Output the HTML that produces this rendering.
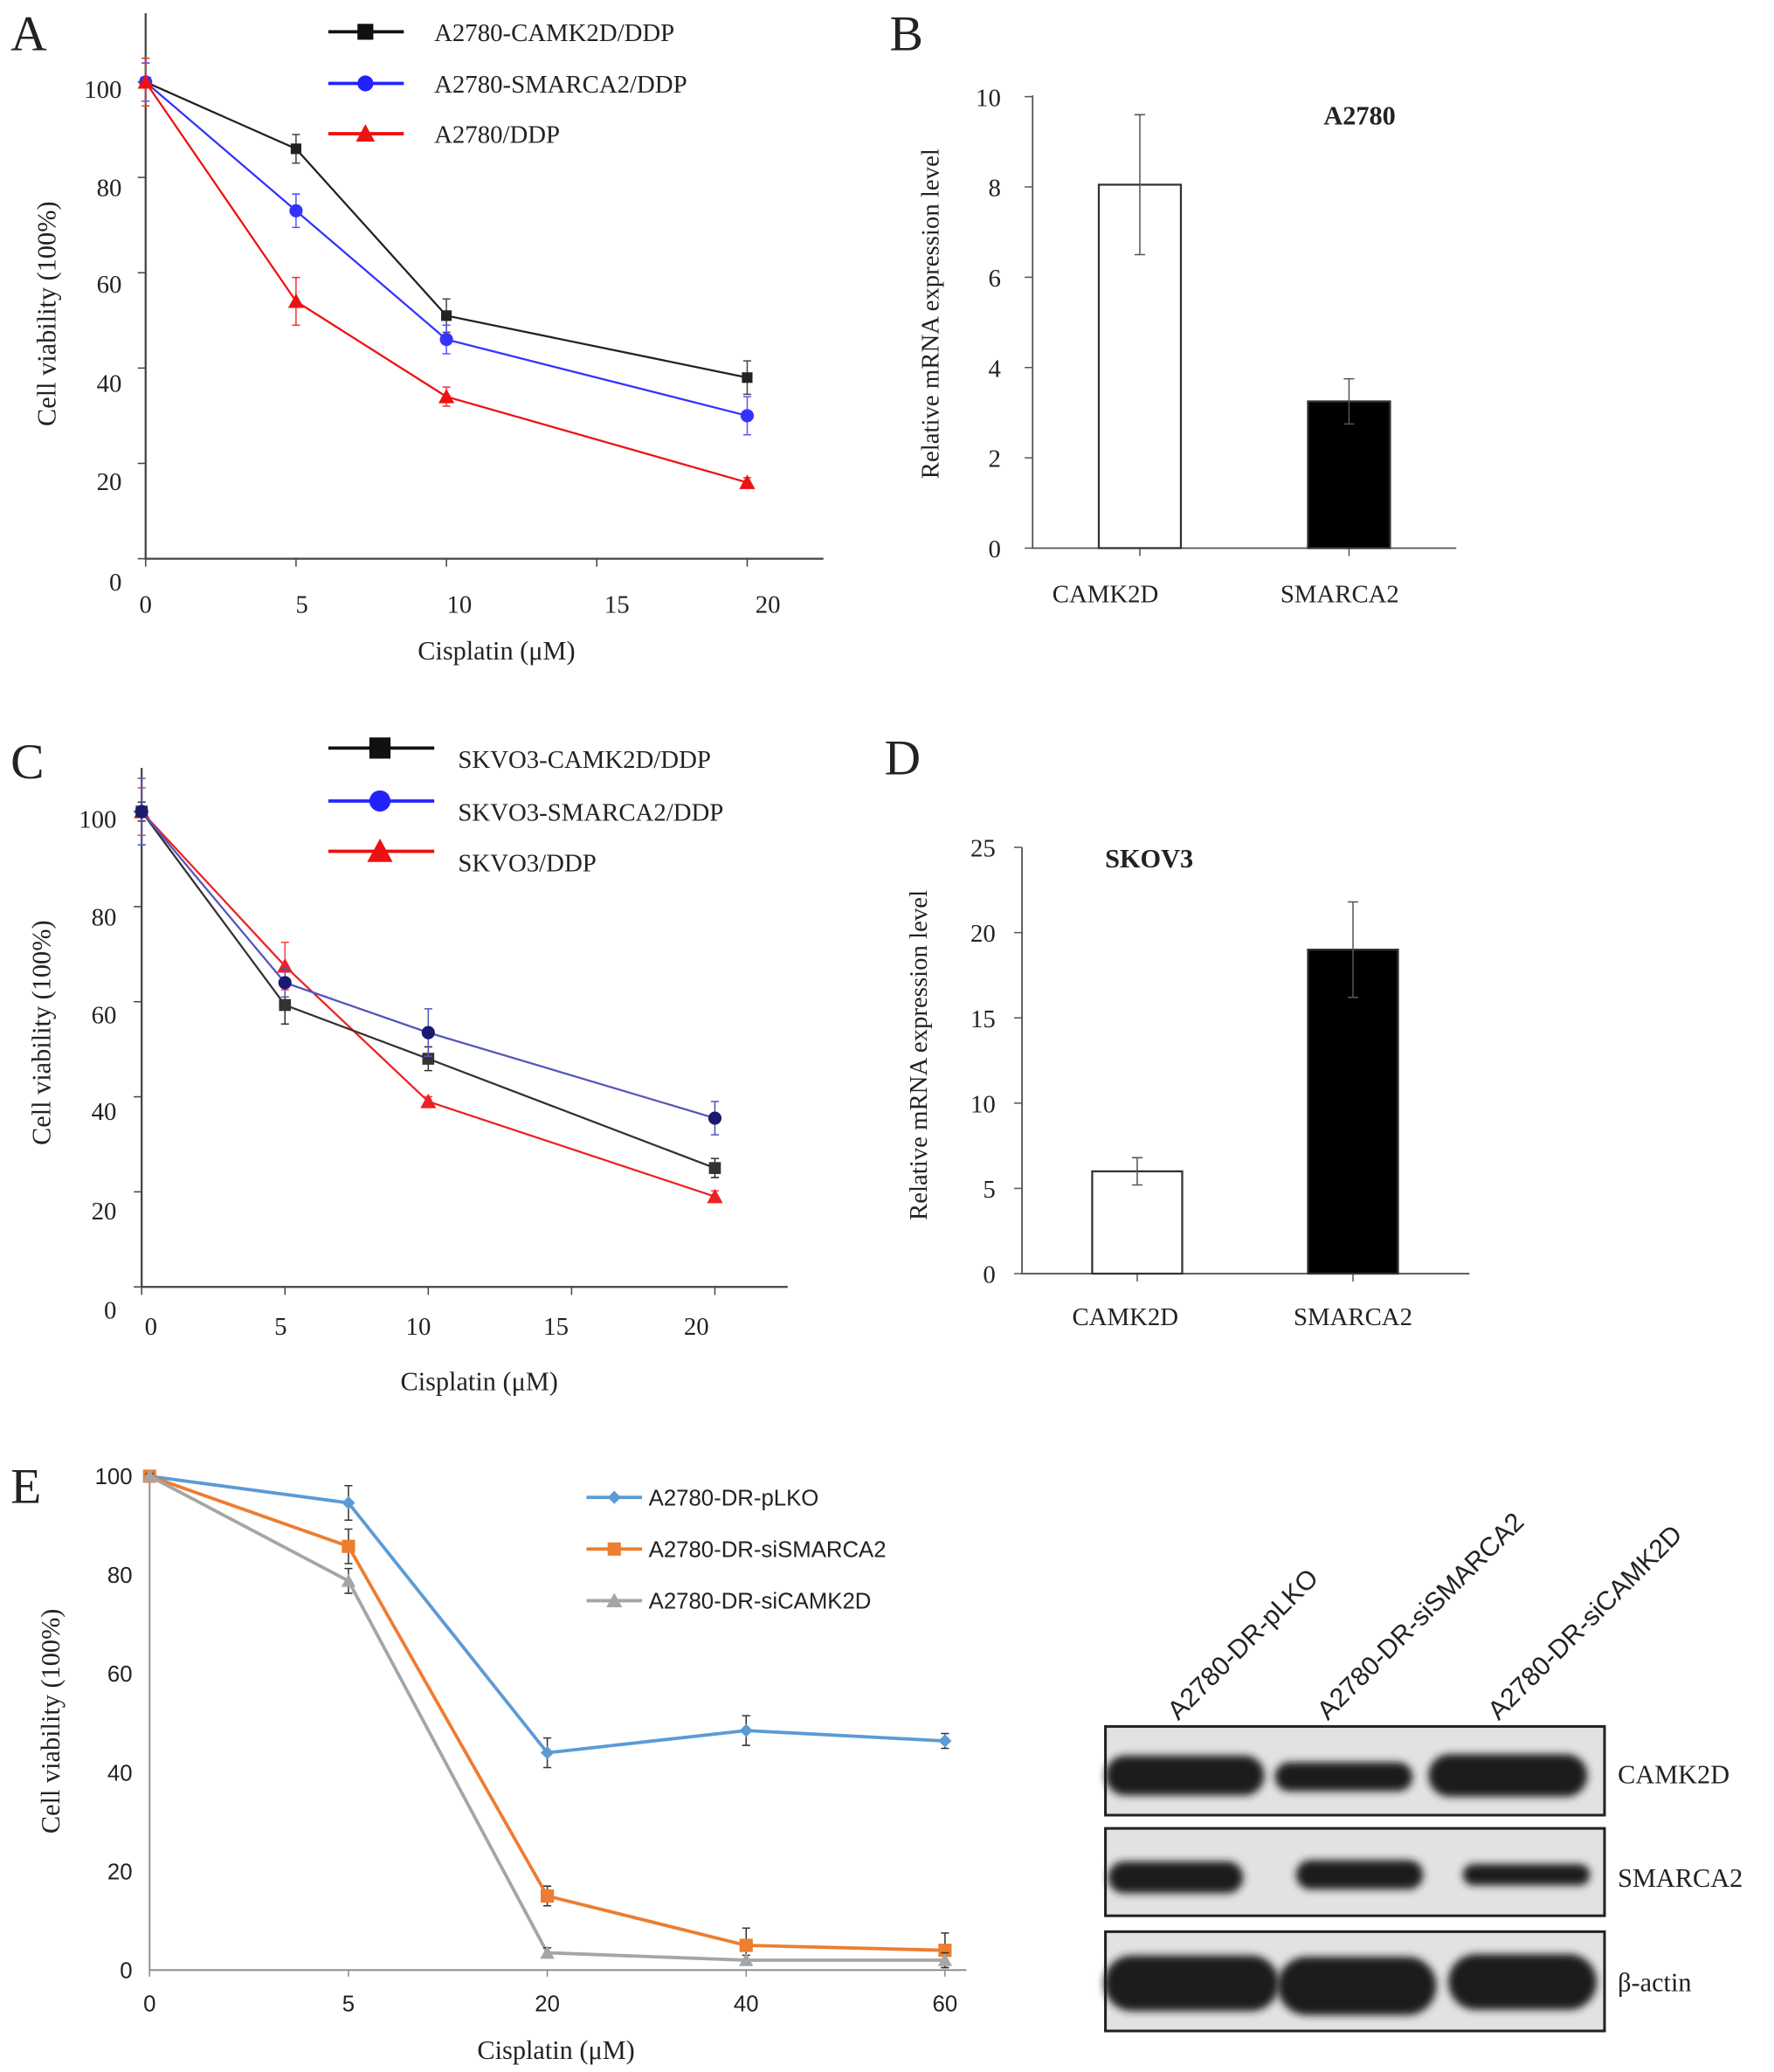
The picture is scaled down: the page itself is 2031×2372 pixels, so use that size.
<!DOCTYPE html>
<html><head><meta charset="utf-8"><style>
html,body{margin:0;padding:0;background:#fff}
svg{display:block}
text{font-family:"Liberation Serif",serif;fill:#222}
.s{font-family:"Liberation Sans",sans-serif}
</style></head><body>
<svg id="fig" width="2031" height="2372" viewBox="0 0 1340 1565" xmlns="http://www.w3.org/2000/svg">
<defs><filter id="blur" x="-20%" y="-50%" width="140%" height="200%"><feGaussianBlur stdDeviation="3"/></filter></defs>
<g id="gA"></g>
<g id="gB"></g>
<g id="gC"></g>
<g id="gD"></g>
<g id="gE"></g>
<g id="gBlot"></g>
</svg>
<script>
// ---- data ----
const aDoses=[0,5,10,20];
const aCamk=[100,86,51,38], aCamkErr=[4,3,3.5,3.5];
const aSmarca=[100,73,46,30], aSmarcaErr=[4,3.5,3,4];
const aDdp=[100,54,34,16], aDdpErr=[5,5,2,1];
const aLegend=["A2780-CAMK2D/DDP","A2780-SMARCA2/DDP","A2780/DDP"];
const bCats=["CAMK2D","SMARCA2"], bVals=[8.05,3.25], bErr=[1.55,0.5];
const cDoses=[0,5,10,20];
const cCamk=[100,59.3,48,25], cCamkErr=[2,4,2.5,2];
const cSmarca=[100,64,53.5,35.5], cSmarcaErr=[7,3,5,3.5];
const cDdp=[100,67.5,39,19], cDdpErr=[5,5,1,1.2];
const cLegend=["SKVO3-CAMK2D/DDP","SKVO3-SMARCA2/DDP","SKVO3/DDP"];
const dCats=["CAMK2D","SMARCA2"], dVals=[6,19], dErr=[0.8,2.8];
const eDoses=["0","5","20","40","60"];
const ePlko=[100,94.6,44,48.5,46.4], ePlkoErr=[0.5,3.5,3,3,1.5];
const eSmarca=[100,85.8,15,5,4], eSmarcaErr=[0.5,3.5,2,3.5,3.5];
const eCamk=[100,78.8,3.5,2,2], eCamkErr=[0.5,2.5,1,1,1.5];
const eLegend=["A2780-DR-pLKO","A2780-DR-siSMARCA2","A2780-DR-siCAMK2D"];
const blotLanes=["A2780-DR-pLKO","A2780-DR-siSMARCA2","A2780-DR-siCAMK2D"];
const blotRows=["CAMK2D","SMARCA2","β-actin"];

const NS="http://www.w3.org/2000/svg";
function mk(p,tag,at,txt){const e=document.createElementNS(NS,tag);for(const k in at)e.setAttribute(k,at[k]);if(txt!==undefined)e.textContent=txt;p.appendChild(e);return e;}
function marker(g,shape,x,y,r,col){
  if(shape==='sq') return mk(g,'rect',{x:x-r,y:y-r,width:2*r,height:2*r,fill:col});
  if(shape==='ci') return mk(g,'circle',{cx:x,cy:y,r:r,fill:col});
  if(shape==='tr') return mk(g,'polygon',{points:`${x},${y-r*1.2} ${x-r*1.2},${y+r} ${x+r*1.2},${y+r}`,fill:col});
  if(shape==='di') return mk(g,'polygon',{points:`${x},${y-r} ${x+r},${y} ${x},${y+r} ${x-r},${y}`,fill:col});
}
function series(g,name,xs,vals,errs,X,Y,col,ecol,shape,r,lw){
  const s=mk(g,'g',{});
  
  
  mk(s,'polyline',{points:vals.map((v,i)=>X(xs[i],i)+','+Y(v)).join(' '),fill:'none',stroke:col,'stroke-width':lw});
  vals.forEach((v,i)=>{const x=X(xs[i],i);
    mk(s,'path',{d:`M${x},${Y(v+errs[i])}V${Y(v-errs[i])}M${x-3},${Y(v+errs[i])}H${x+3}M${x-3},${Y(v-errs[i])}H${x+3}`,stroke:ecol,'stroke-width':1,fill:'none'});
    const m=marker(s,shape,x,Y(v),r,col);
    
    
  });
}
function letter(g,t,x,y){const e=mk(g,'text',{x:x,y:y,'font-size':38},t);}

// ---- Panel A ----
(function(){
  const g=document.getElementById('gA');
  letter(g,'A',8,38);
  const X=v=>110+22.72*v, Y=v=>422-3.6*v;
  mk(g,'path',{d:'M110,10V422H622',stroke:'#444','stroke-width':1.5,fill:'none'});
  [[100,68],[80,142],[60,215],[40,290],[20,364],[0,440]].forEach(([t,y])=>{mk(g,'text',{x:92,y:y+6,'text-anchor':'end','font-size':19},t);mk(g,'path',{d:`M104,${Y(t)}H110`,stroke:'#444'});});
  [[0,110],[5,228],[10,347],[15,466],[20,580]].forEach(([t,x])=>{mk(g,'text',{x:x,y:463,'text-anchor':'middle','font-size':19},t);mk(g,'path',{d:`M${X(t)},422V428`,stroke:'#444'});});
  mk(g,'text',{x:375,y:498,'text-anchor':'middle','font-size':20},'Cisplatin (μM)');
  mk(g,'text',{transform:'translate(42,237) rotate(-90)','text-anchor':'middle','font-size':20},'Cell viability (100%)');
  series(g,'series-camk2d',aDoses,aCamk,aCamkErr,X,Y,'#222','#444','sq',4,1.5);
  series(g,'series-smarca2',aDoses,aSmarca,aSmarcaErr,X,Y,'#3333ff','#5555ff','ci',5,1.5);
  series(g,'series-ddp',aDoses,aDdp,aDdpErr,X,Y,'#ee1111','#ee3333','tr',5,1.5);
  const cols=['#111','#2222ff','#ee1111'],sh=['sq','ci','tr'],ys=[24,63,101];
  aLegend.forEach((t,i)=>{const l=mk(g,'g',{});
    mk(l,'path',{d:`M248,${ys[i]}H305`,stroke:cols[i],'stroke-width':2.5});marker(l,sh[i],276,ys[i],6,cols[i]);
    mk(l,'text',{x:328,y:ys[i]+7,'font-size':19},t);});
})();

// ---- Panel B ----
(function(){
  const g=document.getElementById('gB');
  letter(g,'B',672,38);
  const Y=v=>414-34.1*v, xs=[861,1019];
  mk(g,'path',{d:'M780,72V414H1100',stroke:'#555','stroke-width':1.2,fill:'none'});
  [0,2,4,6,8,10].forEach(t=>{mk(g,'text',{x:756,y:Y(t)+7,'text-anchor':'end','font-size':19},t);mk(g,'path',{d:`M774,${Y(t)}H780`,stroke:'#555'});});
  [861,1019].forEach(x=>mk(g,'path',{d:`M${x},414V420`,stroke:'#555'}));
  mk(g,'text',{x:1027,y:94,'text-anchor':'middle','font-size':20,'font-weight':'bold'},'A2780');
  mk(g,'text',{transform:'translate(709,237) rotate(-90)','text-anchor':'middle','font-size':19},'Relative mRNA expression level');
  bVals.forEach((v,i)=>{const x=xs[i];
    const b=mk(g,'rect',{x:x-31,y:Y(v),width:62,height:414-Y(v),fill:i?'#000':'#fff',stroke:'#333','stroke-width':1.5});
    
    mk(g,'path',{d:`M${x},${Y(v+bErr[i])}V${Y(v-bErr[i])}M${x-4},${Y(v+bErr[i])}H${x+4}M${x-4},${Y(v-bErr[i])}H${x+4}`,stroke:'#555'});
    mk(g,'text',{x:[835,1012][i],y:455,'text-anchor':'middle','font-size':19},bCats[i]);});
})();

// ---- Panel C ----
(function(){
  const g=document.getElementById('gC');
  letter(g,'C',8,588);
  const X=v=>107+21.65*v, Y=v=>972-3.59*v;
  mk(g,'path',{d:'M107,580V972H595',stroke:'#444','stroke-width':1.5,fill:'none'});
  [[100,619],[80,693],[60,767],[40,840],[20,915],[0,990]].forEach(([t,y])=>{mk(g,'text',{x:88,y:y+6,'text-anchor':'end','font-size':19},t);mk(g,'path',{d:`M101,${Y(t)}H107`,stroke:'#444'});});
  [[0,114],[5,212],[10,316],[15,420],[20,526]].forEach(([t,x])=>{mk(g,'text',{x:x,y:1008,'text-anchor':'middle','font-size':19},t);mk(g,'path',{d:`M${X(t)},972V978`,stroke:'#444'});});
  mk(g,'text',{x:362,y:1050,'text-anchor':'middle','font-size':20},'Cisplatin (μM)');
  mk(g,'text',{transform:'translate(38,780) rotate(-90)','text-anchor':'middle','font-size':20},'Cell viability (100%)');
  series(g,'series-ddp',cDoses,cDdp,cDdpErr,X,Y,'#ee2222','#ee4444','tr',5,1.5);
  series(g,'series-camk2d',cDoses,cCamk,cCamkErr,X,Y,'#333','#333','sq',4.5,1.5);
  series(g,'series-smarca2',cDoses,cSmarca,cSmarcaErr,X,Y,'#5555bb','#5555bb','ci',5,1.5);
  g.lastChild.querySelectorAll('circle').forEach(c=>c.setAttribute('fill','#1a1a70'));
  const cols=['#111','#2222ff','#ee1111'],sh=['sq','ci','tr'],ys=[565,605,643];
  cLegend.forEach((t,i)=>{const l=mk(g,'g',{});
    mk(l,'path',{d:`M248,${ys[i]}H328`,stroke:cols[i],'stroke-width':2.5});marker(l,sh[i],287,ys[i],8,cols[i]);
    mk(l,'text',{x:346,y:ys[i]+15,'font-size':19},t);});
})();

// ---- Panel D ----
(function(){
  const g=document.getElementById('gD');
  letter(g,'D',668,585);
  const Y=v=>962-12.88*v, xs=[859,1022];
  mk(g,'path',{d:'M772,640V962H1110',stroke:'#555','stroke-width':1.2,fill:'none'});
  [0,5,10,15,20,25].forEach(t=>{mk(g,'text',{x:752,y:Y(t)+7,'text-anchor':'end','font-size':19},t);mk(g,'path',{d:`M766,${Y(t)}H772`,stroke:'#555'});});
  xs.forEach(x=>mk(g,'path',{d:`M${x},962V968`,stroke:'#555'}));
  mk(g,'text',{x:868,y:655,'text-anchor':'middle','font-size':20,'font-weight':'bold'},'SKOV3');
  mk(g,'text',{transform:'translate(700,797) rotate(-90)','text-anchor':'middle','font-size':19},'Relative mRNA expression level');
  dVals.forEach((v,i)=>{const x=xs[i];
    const b=mk(g,'rect',{x:x-34,y:Y(v),width:68,height:962-Y(v),fill:i?'#000':'#fff',stroke:'#333','stroke-width':1.5});
    
    mk(g,'path',{d:`M${x},${Y(v+dErr[i])}V${Y(v-dErr[i])}M${x-4},${Y(v+dErr[i])}H${x+4}M${x-4},${Y(v-dErr[i])}H${x+4}`,stroke:'#555'});
    mk(g,'text',{x:[850,1022][i],y:1001,'text-anchor':'middle','font-size':19},dCats[i]);});
})();

// ---- Panel E ----
(function(){
  const g=document.getElementById('gE');
  letter(g,'E',8,1135);
  const X=(v,i)=>113+150.2*i, Y=v=>1488-3.73*v;
  mk(g,'path',{d:'M113,1112V1488H730',stroke:'#888','stroke-width':1.2,fill:'none'});
  [100,80,60,40,20,0].forEach(t=>{mk(g,'text',{class:'s',x:100,y:Y(t)+6,'text-anchor':'end','font-size':17},t);});
  eDoses.forEach((t,i)=>{mk(g,'text',{class:'s',x:X(0,i),y:1519,'text-anchor':'middle','font-size':17},t);mk(g,'path',{d:`M${X(0,i)},1488V1493`,stroke:'#888'});});
  mk(g,'text',{x:420,y:1555,'text-anchor':'middle','font-size':20},'Cisplatin (μM)');
  mk(g,'text',{transform:'translate(45,1300) rotate(-90)','text-anchor':'middle','font-size':20},'Cell viability (100%)');
  series(g,'series-pLKO',eDoses,ePlko,ePlkoErr,X,Y,'#5b9bd5','#333','di',5,2.5);
  series(g,'series-siSMARCA2',eDoses,eSmarca,eSmarcaErr,X,Y,'#ed7d31','#333','sq',5,2.5);
  series(g,'series-siCAMK2D',eDoses,eCamk,eCamkErr,X,Y,'#a5a5a5','#333','tr',4.5,2.5);
  const cols=['#5b9bd5','#ed7d31','#a5a5a5'],sh=['di','sq','tr'],ys=[1131,1170,1209];
  eLegend.forEach((t,i)=>{const l=mk(g,'g',{});
    mk(l,'path',{d:`M443,${ys[i]}H485`,stroke:cols[i],'stroke-width':2.5});marker(l,sh[i],464,ys[i],5,cols[i]);
    mk(l,'text',{class:'s',x:490,y:ys[i]+6,'font-size':17},t);});
})();

// ---- Blot ----
(function(){
  const g=document.getElementById('gBlot');
  const boxes=[[1304,67],[1381,66],[1459,75]], labY=[1347,1425,1504];
  const bands=[
    [[895,1341,60,15],[1015,1342,52,11],[1139,1341,60,16]],
    [[888,1418,51,12],[1027,1416,48,11],[1153,1416,48,8]],
    [[900,1498,66,21],[1025,1500,60,22],[1150,1497,56,21]]];
  boxes.forEach(([y,h],r)=>{
    const row=mk(g,'g',{});
    mk(row,'rect',{x:835,y:y,width:377,height:h,fill:'#e2e2e2',stroke:'#222','stroke-width':2});
    bands[r].forEach(([cx,cy,rx,ry])=>mk(row,'rect',{x:cx-rx,y:cy-ry,width:2*rx,height:2*ry,rx:ry,ry:ry,fill:'#1a1a1a',filter:'url(#blur)'}));
    mk(row,'text',{x:1222,y:labY[r],'font-size':20},blotRows[r]);
  });
  const lx=[890,1003,1132];
  blotLanes.forEach((t,i)=>{const e=mk(g,'text',{class:'s',transform:`translate(${lx[i]},1300) rotate(-45)`,'font-size':20},t);
    });
})();
</script>
</body></html>
